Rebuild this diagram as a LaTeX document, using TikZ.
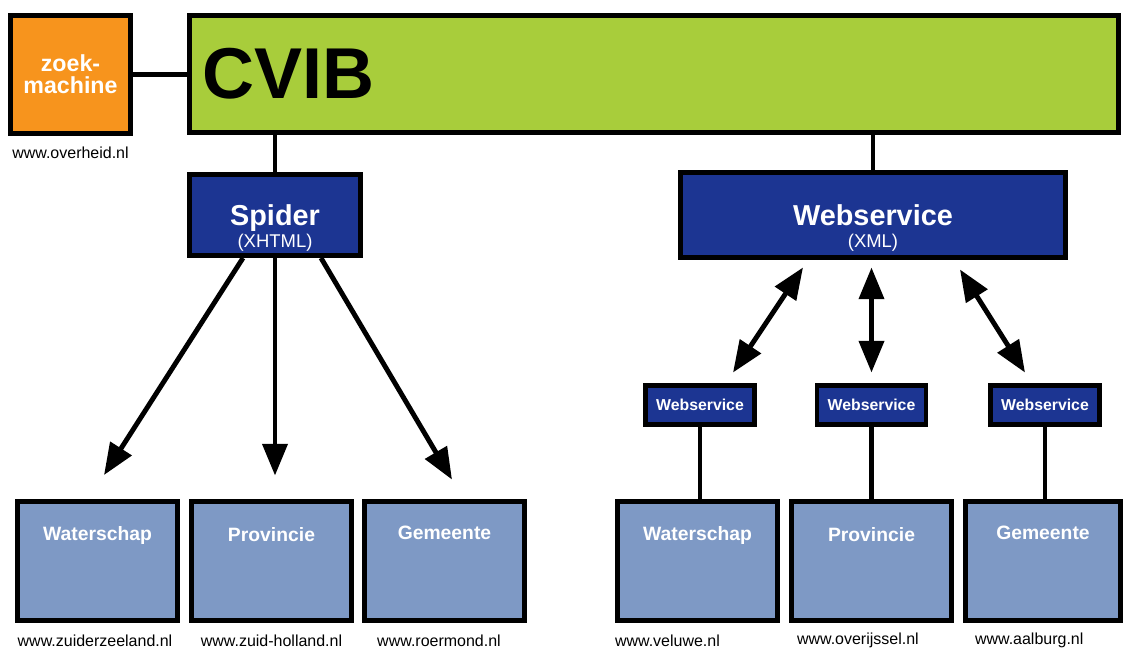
\documentclass[tikz,border=0pt]{standalone}
\usepackage{fontspec}
\setmainfont{Liberation Sans}
\usetikzlibrary{arrows.meta}
\definecolor{zoekorange}{HTML}{F7941D}
\definecolor{cvibgreen}{HTML}{A8CD3B}
\definecolor{darkblue}{HTML}{1C3592}
\definecolor{paleblue}{HTML}{7E99C5}

\begin{document}
\begin{tikzpicture}[x=0.02cm,y=-0.02cm,
	every node/.style={draw,line width=2.8pt,inner sep=0pt},
	conn/.style={line width=2.8pt},
	arr/.style={line width=2.8pt,-{Triangle[length=18pt,width=14pt]}},
	darr/.style={line width=2.8pt,{Triangle[length=18pt,width=14pt]}-{Triangle[length=18pt,width=14pt]}},
	site/.style={fill=paleblue,minimum width=3.2cm,minimum height=2.38cm},
	sitetxt/.style={draw=none,text=white,font=\fontsize{11}{13}\selectfont\bfseries,anchor=center,yshift=-0.72cm},
	mid/.style={draw=none,text=white,align=center,anchor=center,font=\fontsize{16.4}{12.5}\selectfont\bfseries},
	url/.style={draw=none,font=\fontsize{9.1}{11}\selectfont,anchor=center,yshift=-0.35cm}]
	\useasboundingbox (0,0) rectangle (1123,647);

	% top row
	\node (zoek) at (70.5,74.5) [fill=zoekorange,minimum width=2.4cm,minimum height=2.36cm,text=white,align=center,font=\fontsize{13.2}{12.6}\selectfont\bfseries,label={[url,yshift=0.02cm]south:www.overheid.nl}] {zoek-\\machine};
	\node (cvib) at (654,74) [fill=cvibgreen,minimum width=18.58cm,minimum height=2.34cm,label={[draw=none,anchor=west,xshift=0.25cm,font=\fontsize{41}{45}\selectfont\bfseries]west:CVIB}] {};

	\node (spider) at (275,215) [fill=darkblue,minimum width=3.42cm,minimum height=1.62cm,label={[mid,yshift=-0.26cm]center:Spider\\{\fontsize{10.5}{12}\selectfont\mdseries (XHTML)}}] {};
	\node (ws) at (873,215) [fill=darkblue,minimum width=7.7cm,minimum height=1.7cm,label={[mid,yshift=-0.26cm]center:Webservice\\{\fontsize{10.5}{12}\selectfont\mdseries (XML)}}] {};

	% small webservices
	\node (wsA) at (700,405) [fill=darkblue,minimum width=2.18cm,minimum height=0.78cm,text=white,font=\fontsize{9}{10}\selectfont\bfseries] {Webservice};
	\node (wsB) at (871.5,405) [fill=darkblue,minimum width=2.18cm,minimum height=0.78cm,text=white,font=\fontsize{9}{10}\selectfont\bfseries] {Webservice};
	\node (wsC) at (1045,405) [fill=darkblue,minimum width=2.18cm,minimum height=0.78cm,text=white,font=\fontsize{9}{10}\selectfont\bfseries] {Webservice};

	% sites
	\node (wL) at (97.5,561) [site,label={[sitetxt]north:Waterschap},label={[url,xshift=-0.05cm]south:www.zuiderzeeland.nl}] {};
	\node (pL) at (271.5,561) [site,label={[sitetxt]north:Provincie},label={[url]south:www.zuid-holland.nl}] {};
	\node (gL) at (444.5,561) [site,label={[sitetxt,yshift=0.04cm]north:Gemeente},label={[url,xshift=-0.11cm]south:www.roermond.nl}] {};
	\node (wR) at (697.5,561) [site,label={[sitetxt]north:Waterschap},label={[url,anchor=west,xshift=-0.05cm]south west:www.veluwe.nl}] {};
	\node (pR) at (871.5,561) [site,label={[sitetxt]north:Provincie},label={[url,anchor=west,xshift=0.11cm]south west:www.overijssel.nl}] {};
	\node (gR) at (1043,561) [site,minimum width=3.1cm,label={[sitetxt,yshift=0.04cm]north:Gemeente},label={[url,anchor=west,xshift=0.19cm]south west:www.aalburg.nl}] {};

	\draw[conn] (zoek.east) -- (zoek.east -| cvib.west);
	\draw[conn] (spider.north) -- (spider.north |- cvib.south);
	\draw[conn] (ws.north) -- (ws.north |- cvib.south);

	\draw[arr] ([xshift=-0.64cm]spider.south) -- ([xshift=0.13cm,yshift=0.48cm]wL.north);
	\draw[arr] (spider.south) -- ([yshift=0.47cm]spider.south |- pL.north);
	\draw[arr] ([xshift=0.92cm]spider.south) -- ([xshift=0.15cm,yshift=0.39cm]gL.north);

	\draw[darr] ([xshift=-1.4cm,yshift=-0.15cm]ws.south) -- ([xshift=0.66cm,yshift=0.21cm]wsA.north);
	\draw[darr] ([yshift=-0.15cm]ws.south -| wsB.north) -- ([yshift=0.21cm]wsB.north);
	\draw[darr] ([xshift=1.74cm,yshift=-0.19cm]ws.south) -- ([xshift=-0.4cm,yshift=0.21cm]wsC.north);

	\draw[conn] (wsA.south) -- (wsA.south |- wR.north);
	\draw[conn] (wsB.south) -- (wsB.south |- pR.north);
	\draw[conn] (wsC.south) -- (wsC.south |- gR.north);
\end{tikzpicture}
\end{document}
